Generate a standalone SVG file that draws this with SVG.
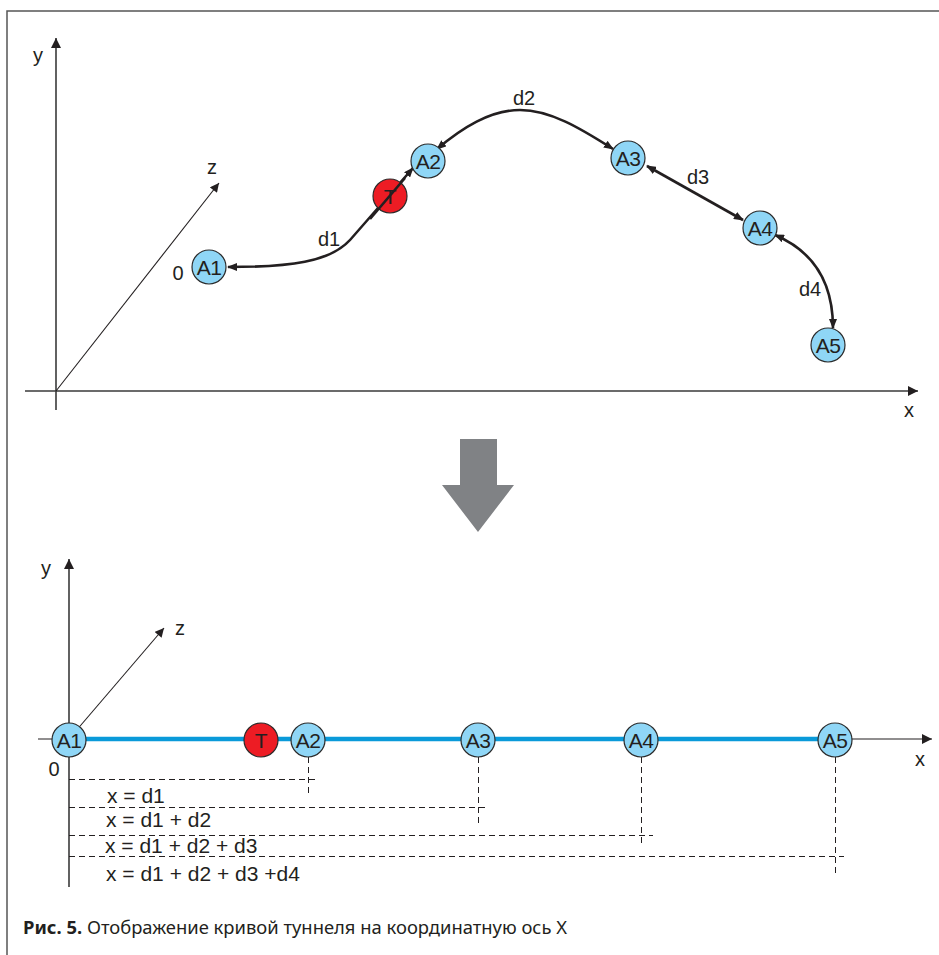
<svg xmlns="http://www.w3.org/2000/svg" width="939" height="955" viewBox="0 0 939 955">
<style>
.frame{fill:none;stroke:#555;stroke-width:1.5}
.axis{fill:none;stroke:#3a3a3a;stroke-width:1.6}
.zaxis{fill:none;stroke:#231f20;stroke-width:1.1}
.curve{fill:none;stroke:#231f20;stroke-width:2.6}
.node{fill:#8fd6f6;stroke:#2b2b2b;stroke-width:1.2}
.red{fill:#ed1c24;stroke:#2b2b2b;stroke-width:1.2}
.lbl{font-family:"Liberation Sans",Arial,sans-serif;font-size:20px;fill:#231f20}
.nl{font-size:21px;letter-spacing:-0.5px}
.eq{font-size:21px}
.mid{text-anchor:middle}
.dash{fill:none;stroke:#231f20;stroke-width:1;stroke-dasharray:6 4}
.blue{fill:none;stroke:#0a9ad9;stroke-width:4.5}
.cap{font-family:"Noto Sans",sans-serif;font-size:18.4px;fill:#231f20}
</style>
<defs>
<marker id="ah" viewBox="0 0 10 8" refX="9" refY="4" markerWidth="10" markerHeight="8" markerUnits="userSpaceOnUse" orient="auto-start-reverse">
<path d="M0,0 L10,4 L0,8 z" fill="#231f20"/>
</marker>
<marker id="ax" viewBox="0 0 10 10" refX="10" refY="5" markerWidth="10" markerHeight="10" markerUnits="userSpaceOnUse" orient="auto">
<path d="M0,0 L10,5 L0,10 z" fill="#231f20"/>
</marker>
<marker id="axz" viewBox="0 0 10 10" refX="10" refY="5" markerWidth="10" markerHeight="9" markerUnits="userSpaceOnUse" orient="auto">
<path d="M0,0 L10,5 L0,10 z" fill="#231f20"/>
</marker>
</defs>
<rect width="939" height="955" fill="#fff"/>
<path class="frame" d="M7,955 L7,11 L939,11"/>

<!-- top section axes -->
<g id="axes-top">
<line class="axis" x1="56" y1="410" x2="56" y2="38" marker-end="url(#ax)"/>
<line class="axis" x1="25" y1="391" x2="918" y2="391" marker-end="url(#ax)"/>
<line class="zaxis" x1="56" y1="391" x2="219" y2="183" marker-end="url(#axz)"/>
<text class="lbl mid" x="38" y="62">y</text>
<text class="lbl mid" x="212" y="174">z</text>
<text class="lbl mid" x="909" y="417">x</text>
<text class="lbl mid" x="178" y="280">0</text>
</g>

<!-- top connectors -->
<g id="connectors-top">
<path class="curve" d="M228,267 C290,267 330,262 350,240 L413,168" marker-start="url(#ah)" marker-end="url(#ah)"/>
<path class="curve" d="M437,149 C462,128 490,110 520,110 C550,110 580,128 613,149" marker-start="url(#ah)" marker-end="url(#ah)"/>
<path class="curve" d="M647,166 L743,220" marker-start="url(#ah)" marker-end="url(#ah)"/>
<path class="curve" d="M775,235 C815,252 833,285 833,328" marker-start="url(#ah)" marker-end="url(#ah)"/>
<text class="lbl mid" x="329" y="246">d1</text>
<text class="lbl mid" x="524" y="105">d2</text>
<text class="lbl mid" x="698" y="184">d3</text>
<text class="lbl mid" x="810" y="296">d4</text>
</g>

<!-- top nodes -->
<g id="top-A1"><circle class="node" cx="209" cy="267" r="17"/><text class="lbl nl mid" x="209" y="275">A1</text></g>
<g id="top-T"><circle class="red" cx="390" cy="196" r="17"/><text class="lbl nl mid" x="390" y="204">T</text>
<path class="curve" d="M370,219 L405,178"/></g>
<g id="top-A2"><circle class="node" cx="428" cy="161" r="17"/><text class="lbl nl mid" x="428" y="169">A2</text></g>
<g id="top-A3"><circle class="node" cx="628" cy="158" r="17"/><text class="lbl nl mid" x="628" y="166">A3</text></g>
<g id="top-A4"><circle class="node" cx="760" cy="228" r="17"/><text class="lbl nl mid" x="760" y="236">A4</text></g>
<g id="top-A5"><circle class="node" cx="828" cy="345" r="17"/><text class="lbl nl mid" x="828" y="353">A5</text></g>

<!-- big transition arrow -->
<g id="big-arrow">
<path d="M460,439 L497,439 L497,485 L514,485 L478,532 L442,485 L460,485 z" fill="#808285"/>
</g>

<!-- bottom section axes -->
<g id="axes-bottom">
<line class="axis" x1="69" y1="887" x2="69" y2="559" marker-end="url(#ax)"/>
<line class="zaxis" x1="38" y1="739" x2="932" y2="739" marker-end="url(#ax)"/>
<line class="zaxis" x1="69" y1="739" x2="164" y2="628" marker-end="url(#axz)"/>
<text class="lbl mid" x="46" y="575">y</text>
<text class="lbl mid" x="180" y="635">z</text>
<text class="lbl mid" x="920" y="766">x</text>
<text class="lbl mid" x="54" y="776">0</text>
</g>

<g id="connectors-bottom">
<line class="blue" x1="69" y1="739" x2="835" y2="739"/>
<line class="dash" x1="69" y1="779.5" x2="316" y2="779.5"/>
<line class="dash" x1="69" y1="807.5" x2="487" y2="807.5"/>
<line class="dash" x1="69" y1="835.5" x2="653" y2="835.5"/>
<line class="dash" x1="69" y1="856.5" x2="844" y2="856.5"/>
<line class="dash" x1="308.5" y1="757" x2="308.5" y2="793"/>
<line class="dash" x1="478.5" y1="757" x2="478.5" y2="823"/>
<line class="dash" x1="641.5" y1="757" x2="641.5" y2="844"/>
<line class="dash" x1="835.5" y1="757" x2="835.5" y2="877"/>
<text class="lbl eq" x="107" y="803">x = d1</text>
<text class="lbl eq" x="106" y="827">x = d1 + d2</text>
<text class="lbl eq" x="105" y="853">x = d1 + d2 + d3</text>
<text class="lbl eq" x="106" y="881">x = d1 + d2 + d3 +d4</text>
</g>

<g id="bot-A1"><circle class="node" cx="69" cy="740" r="17"/><text class="lbl nl mid" x="69" y="748">A1</text></g>
<g id="bot-T"><circle class="red" cx="261" cy="740" r="17"/><text class="lbl nl mid" x="261" y="748">T</text></g>
<g id="bot-A2"><circle class="node" cx="308" cy="740" r="17"/><text class="lbl nl mid" x="308" y="748">A2</text></g>
<g id="bot-A3"><circle class="node" cx="478" cy="740" r="17"/><text class="lbl nl mid" x="478" y="748">A3</text></g>
<g id="bot-A4"><circle class="node" cx="641" cy="740" r="17"/><text class="lbl nl mid" x="641" y="748">A4</text></g>
<g id="bot-A5"><circle class="node" cx="835" cy="740" r="17"/><text class="lbl nl mid" x="835" y="748">A5</text></g>

<text class="cap" x="23" y="934"><tspan font-weight="bold">Рис. 5.</tspan> Отображение кривой туннеля на координатную ось X</text>
</svg>
